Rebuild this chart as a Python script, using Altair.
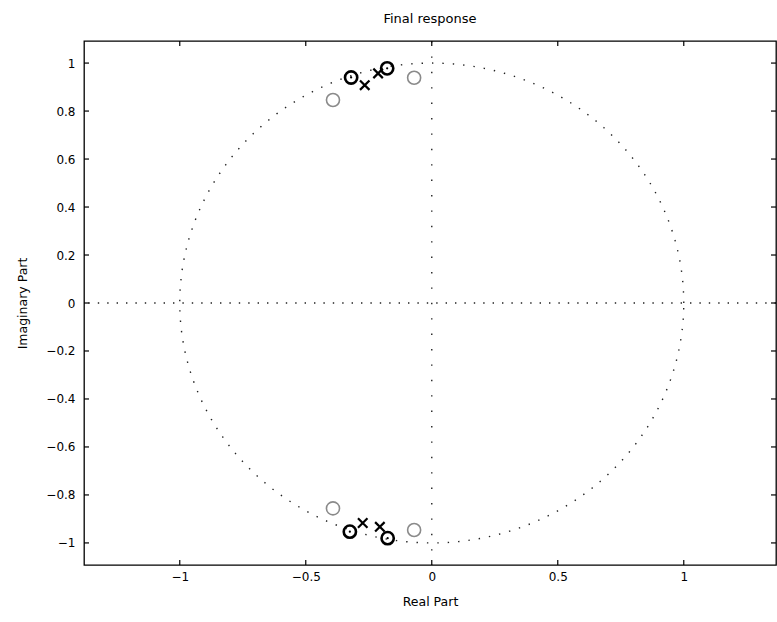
import altair as alt
import pandas as pd

# ---- data ----
zeros_dark_re = [-0.320, -0.177, -0.325, -0.175]
zeros_dark_im = [0.940, 0.978, -0.953, -0.980]
zeros_grey_re = [-0.392, -0.070, -0.392, -0.070]
zeros_grey_im = [0.846, 0.939, -0.856, -0.946]
poles_re = [-0.266, -0.213, -0.274, -0.206]
poles_im = [0.908, 0.957, -0.917, -0.933]

x_ticks = [-1, -0.5, 0, 0.5, 1]
y_ticks = [-1, -0.8, -0.6, -0.4, -0.2, 0, 0.2, 0.4, 0.6, 0.8, 1]

X_DOMAIN = [-1.38, 1.366]
Y_DOMAIN = [-1.092, 1.092]
W, H = 692, 524
FONT = "DejaVu Sans"

xs = alt.Scale(domain=X_DOMAIN, nice=False, zero=False)
ys = alt.Scale(domain=Y_DOMAIN, nice=False, zero=False)

df_dark = pd.DataFrame({"re": zeros_dark_re, "im": zeros_dark_im})
df_grey = pd.DataFrame({"re": zeros_grey_re, "im": zeros_grey_im})
df_poles = pd.DataFrame({"re": poles_re, "im": poles_im})
df_xt = pd.DataFrame({"v": x_ticks})
df_yt = pd.DataFrame({"v": y_ticks})

xaxis = alt.Axis(values=x_ticks, ticks=False, tickSize=0, domain=False, grid=False,
                 labelPadding=6, labelFont=FONT, labelFontSize=12, labelColor="black",
                 title="Real Part", titleFont=FONT, titleFontSize=12.5, titleFontWeight="normal",
                 titleColor="black", titlePadding=13, format="~g")
yaxis = alt.Axis(values=y_ticks, ticks=False, tickSize=0, domain=False, grid=False,
                 labelPadding=9, labelFont=FONT, labelFontSize=12, labelColor="black",
                 title="Imaginary Part", titleFont=FONT, titleFontSize=12.5, titleFontWeight="normal",
                 titleColor="black", titlePadding=16, format="~g")

# unit circle (dotted), generated by Vega's own sequence/calculate
circle = alt.Chart(alt.sequence(0, 361, 1, as_="deg")).transform_calculate(
    re="cos(datum.deg*PI/180)", im="sin(datum.deg*PI/180)"
).mark_line(color="#222", strokeWidth=1.4, strokeDash=[1.4, 9]).encode(
    x=alt.X("re:Q", scale=xs, axis=xaxis),
    y=alt.Y("im:Q", scale=ys, axis=yaxis),
    order="deg:Q",
)

hline = alt.Chart(pd.DataFrame({"v": [0]})).mark_rule(
    color="#222", strokeWidth=1.4, strokeDash=[1.4, 8]).encode(y=alt.Y("v:Q", scale=ys))
vline = alt.Chart(pd.DataFrame({"v": [0]})).mark_rule(
    color="#222", strokeWidth=1.4, strokeDash=[1.4, 14]).encode(x=alt.X("v:Q", scale=xs))

grey_pts = alt.Chart(df_grey).mark_point(
    shape="circle", filled=False, size=170, color="#8a8a8a", strokeWidth=1.6, opacity=1).encode(
    x=alt.X("re:Q", scale=xs), y=alt.Y("im:Q", scale=ys))
dark_pts = alt.Chart(df_dark).mark_point(
    shape="circle", filled=False, size=150, color="black", strokeWidth=2.6, opacity=1).encode(
    x=alt.X("re:Q", scale=xs), y=alt.Y("im:Q", scale=ys))
dark_ctr = alt.Chart(df_dark).mark_point(
    shape="circle", filled=True, size=5, color="black", opacity=1).encode(
    x=alt.X("re:Q", scale=xs), y=alt.Y("im:Q", scale=ys))
pole_pts = alt.Chart(df_poles).mark_point(
    shape="M-1,-1L1,1M-1,1L1,-1", filled=False, size=90, color="black", strokeWidth=2.2,
    opacity=1).encode(
    x=alt.X("re:Q", scale=xs), y=alt.Y("im:Q", scale=ys))

TL = 5
tick_style = dict(color="black", strokeWidth=1.2)
t_left = alt.Chart(df_yt).mark_rule(**tick_style).encode(
    y=alt.Y("v:Q", scale=ys), x=alt.value(0), x2=alt.value(TL))
t_right = alt.Chart(df_yt).mark_rule(**tick_style).encode(
    y=alt.Y("v:Q", scale=ys), x=alt.value(W - TL), x2=alt.value(W))
t_top = alt.Chart(df_xt).mark_rule(**tick_style).encode(
    x=alt.X("v:Q", scale=xs), y=alt.value(0), y2=alt.value(TL))
t_bot = alt.Chart(df_xt).mark_rule(**tick_style).encode(
    x=alt.X("v:Q", scale=xs), y=alt.value(H - TL), y2=alt.value(H))

chart = alt.layer(
    circle, hline, vline, grey_pts, pole_pts, dark_pts, dark_ctr,
    t_left, t_right, t_top, t_bot,
).properties(
    width=W, height=H,
    title=alt.TitleParams("Final response", font=FONT, fontSize=13, fontWeight="normal",
                          color="black", offset=14, anchor="middle"),
    autosize=alt.AutoSizeParams(type="none"),
    padding={"left": 84, "top": 41, "right": 1, "bottom": 57},
    background="white",
).configure_view(
    stroke="black", strokeWidth=1.3, fill="white"
)

chart.save("out.html", embed_options={"renderer": "svg", "actions": False})
